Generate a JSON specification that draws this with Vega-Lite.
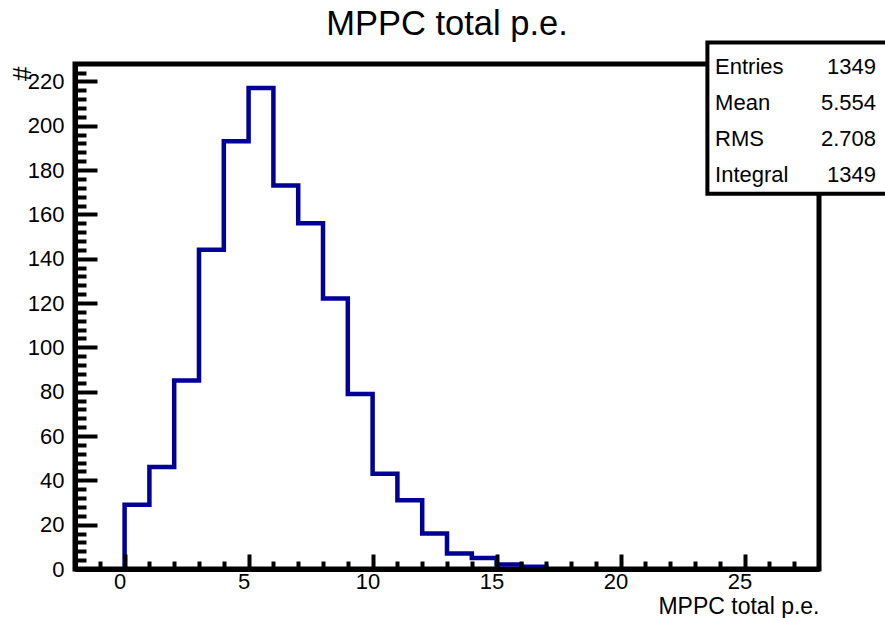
{
  "$schema": "https://vega.github.io/schema/vega-lite/v6.json",
  "width": 744,
  "height": 505,
  "autosize": {"type": "none"},
  "padding": {"left": 75, "top": 64, "right": 66, "bottom": 49},
  "background": "white",
  "title": {
    "text": "MPPC total p.e.",
    "fontSize": 34.5,
    "font": "Liberation Sans",
    "fontWeight": "normal",
    "anchor": "middle",
    "frame": "group",
    "baseline": "alphabetic",
    "offset": -29,
    "color": "black"
  },
  "config": {
    "font": "Liberation Sans",
    "view": {"stroke": "black", "strokeWidth": 5},
    "axis": {
      "labelFont": "Liberation Sans",
      "titleFont": "Liberation Sans",
      "labelColor": "black",
      "titleColor": "black",
      "tickColor": "black",
      "domainColor": "black",
      "grid": false
    }
  },
  "layer": [
    {
      "layer": [
        {
          "data": {
            "values": [
              {"i": 0, "pe": 0, "count": 0},
              {"i": 1, "pe": 0, "count": 29},
              {"i": 2, "pe": 1, "count": 46},
              {"i": 3, "pe": 2, "count": 85},
              {"i": 4, "pe": 3, "count": 144},
              {"i": 5, "pe": 4, "count": 193},
              {"i": 6, "pe": 5, "count": 217},
              {"i": 7, "pe": 6, "count": 173},
              {"i": 8, "pe": 7, "count": 156},
              {"i": 9, "pe": 8, "count": 122},
              {"i": 10, "pe": 9, "count": 79},
              {"i": 11, "pe": 10, "count": 43},
              {"i": 12, "pe": 11, "count": 31},
              {"i": 13, "pe": 12, "count": 16},
              {"i": 14, "pe": 13, "count": 7},
              {"i": 15, "pe": 14, "count": 5},
              {"i": 16, "pe": 15, "count": 2},
              {"i": 17, "pe": 16, "count": 1},
              {"i": 18, "pe": 17, "count": 0}
            ]
          },
          "mark": {"type": "line", "interpolate": "step-after", "color": "#000099", "strokeWidth": 4.5, "strokeJoin": "miter", "strokeCap": "butt"},
          "encoding": {
            "x": {
              "field": "pe", "type": "quantitative",
              "scale": {"domain": [-2, 28], "nice": false, "zero": false},
              "axis": {
                "values": [-1,0,1,2,3,4,5,6,7,8,9,10,11,12,13,14,15,16,17,18,19,20,21,22,23,24,25,26,27],
                "tickCount": 200,
                "format": "d",
                "labelExpr": "datum.value % 5 === 0 ? datum.label : ''",
                "tickSize": {"condition": {"test": "datum.value % 5 === 0", "value": -15}, "value": -8},
                "tickWidth": 4,
                "domain": true,
                "domainWidth": 5,
                "labelFontSize": 22,
                "labelPadding": 17,
                "labelOffset": -5,
                "labelFlush": false,
                "labelOverlap": false,
                "zindex": 1,
                "title": "MPPC total p.e.",
                "titleFontSize": 23,
                "titleFontWeight": "normal",
                "titleAnchor": "end",
                "titleAlign": "right",
                "titleBaseline": "alphabetic",
                "titleX": 744,
                "titleY": 44
              }
            },
            "y": {
              "field": "count", "type": "quantitative",
              "scale": {"domain": [0, 227.85], "nice": false, "zero": true},
              "axis": {
                "values": [0,4,8,12,16,20,24,28,32,36,40,44,48,52,56,60,64,68,72,76,80,84,88,92,96,100,104,108,112,116,120,124,128,132,136,140,144,148,152,156,160,164,168,172,176,180,184,188,192,196,200,204,208,212,216,220,224],
                "tickCount": 200,
                "format": "d",
                "labelExpr": "datum.value % 20 === 0 ? datum.label : ''",
                "tickSize": {"condition": {"test": "datum.value % 20 === 0", "value": -22}, "value": -11},
                "tickWidth": 4,
                "domain": true,
                "domainWidth": 5,
                "labelFontSize": 22,
                "labelPadding": 33,
                "labelFlush": false,
                "labelOverlap": false,
                "zindex": 1,
                "title": "#",
                "titleFontSize": 26,
                "titleFontWeight": "normal",
                "titleAngle": 270,
                "titleAlign": "right",
                "titleBaseline": "middle",
                "titleX": -53,
                "titleY": 2
              }
            },
            "order": {"field": "i", "type": "quantitative"}
          }
        },
        {
          "data": {"values": [{"box": "stats"}]},
          "mark": {"type": "rect", "fill": "white", "stroke": "black", "strokeWidth": 4},
          "encoding": {
            "x": {"datum": 23.5, "scale": {"domain": [-2, 28]}},
            "x2": {"datum": 31.5},
            "y": {"datum": 237.6, "scale": {"domain": [0, 227.85]}},
            "y2": {"datum": 169.3}
          }
        }
      ]
    },
    {
      "data": {
        "values": [
          {"stat": "Entries", "value": "1349"},
          {"stat": "Mean", "value": "5.554"},
          {"stat": "RMS", "value": "2.708"},
          {"stat": "Integral", "value": "1349"}
        ]
      },
      "encoding": {
        "y": {
          "field": "stat", "type": "ordinal", "sort": null,
          "scale": {"type": "point", "range": [9.5, 117.5], "padding": 0},
          "axis": null
        }
      },
      "layer": [
        {
          "mark": {"type": "text", "align": "left", "baseline": "alphabetic", "fontSize": 22, "font": "Liberation Sans", "color": "black"},
          "encoding": {
            "x": {"datum": 23.81, "scale": {"domain": [-2, 28]}},
            "text": {"field": "stat"}
          }
        },
        {
          "mark": {"type": "text", "align": "right", "baseline": "alphabetic", "fontSize": 22, "font": "Liberation Sans", "color": "black"},
          "encoding": {
            "x": {"datum": 30.3, "scale": {"domain": [-2, 28]}},
            "text": {"field": "value"}
          }
        }
      ]
    }
  ],
  "resolve": {"scale": {"y": "independent"}}
}
